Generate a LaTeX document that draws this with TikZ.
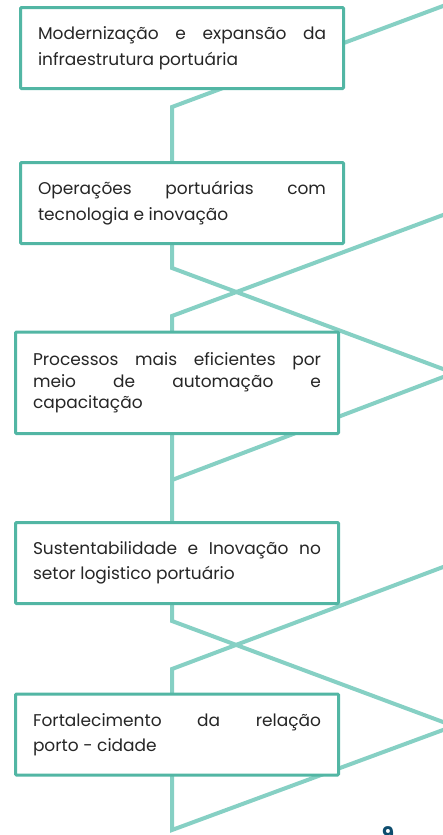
\documentclass[tikz,border=0pt]{standalone}
\usepackage{fontspec}
\setmainfont{Poppins}
\usetikzlibrary{positioning}

\definecolor{boxteal}{HTML}{52B6A4}
\definecolor{lineteal}{HTML}{86D0C4}
\definecolor{pagenavy}{HTML}{0E4D6E}

\begin{document}
\begin{tikzpicture}[x=1pt, y=-1pt,
topic/.style={rectangle, draw=boxteal, line width=3pt, fill=white, rounded corners=1pt, outer sep=0pt,
  text width=288pt, minimum width=323pt, minimum height=81pt, inner xsep=17.5pt, inner ysep=2pt,
  align=justify, text=black!85, font=\fontsize{17}{25.5}\selectfont},
zigzag/.style={draw=lineteal, line width=4pt},
pagenum/.style={inner sep=0pt, text=pagenavy, font=\fontsize{20}{20}\selectfont\bfseries},
]
\useasboundingbox (0,0) rectangle (443,835);

% bends of the zigzag lines (the right ends leave the page)
\coordinate (top1) at (450,3.4);
\coordinate (bend1) at (172,107);
\coordinate (bend2) at (172,268);
\coordinate (out2) at (450,371.6);
\coordinate (top2) at (450,212.4);
\coordinate (bend3) at (172,316);
\coordinate (top3) at (450,374.4);
\coordinate (bend4) at (172,480);
\coordinate (bend5) at (172,621);
\coordinate (out5) at (450,724.6);
\coordinate (top4) at (450,564.4);
\coordinate (bend6) at (172,669);
\coordinate (bend7) at (172,830);
\coordinate (top5) at (450,727.4);

% \draw[zigzag] (from) -- (bend) -- (to)
\draw[zigzag] (top1) -- (bend1) -- (bend2) -- (out2);
\draw[zigzag] (top2) -- (bend3) -- (bend5) -- (out5);
\draw[zigzag] (top3) -- (bend4);
\draw[zigzag] (top4) -- (bend6) -- (bend7) -- (top5);

% \node[topic](name)[below=gap of name]{text}
\node[topic](modern) at (182,48){Modernização e expansão da\linebreak infraestrutura portuária};
\node[topic](operacoes)[below=74pt of modern]{Operações portuárias com\linebreak tecnologia e inovação};
\node[topic, minimum height=101.5pt, font=\fontsize{17}{21.5}\selectfont](processos)[below=88.5pt of operacoes, xshift=-5pt]{Processos mais eficientes por\linebreak meio de automação e\linebreak capacitação};
\node[topic](sustent)[below=89pt of processos]{Sustentabilidade e Inovação no\linebreak setor logistico portuário};
\node[topic](porto)[below=90.5pt of sustent]{Fortalecimento da relação\linebreak porto - cidade};

\node[pagenum, anchor=north](pageno) at (388,826.5){9};

\end{tikzpicture}
\end{document}
